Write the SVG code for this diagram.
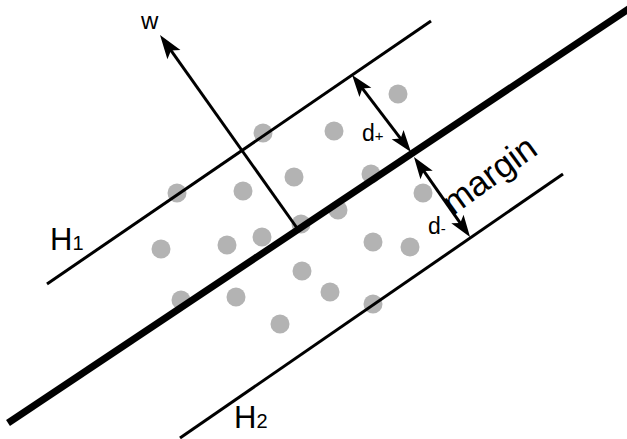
<svg xmlns="http://www.w3.org/2000/svg" width="627" height="439" viewBox="0 0 627 439">
<style>
.ln{stroke:#000;fill:none;stroke-width:3}
.thick{stroke:#000;fill:none;stroke-width:7}
.dot{fill:#b3b3b3}
text{font-family:"Liberation Sans",Arial,sans-serif;fill:#000}
</style>
<defs>
<marker id="ah" markerUnits="userSpaceOnUse" viewBox="-24 -10 32 20" refX="0" refY="0" markerWidth="32" markerHeight="20" orient="auto-start-reverse">
<path d="M6 0 L-16 -7.5 L-11 0 L-16 7.5 Z" fill="#000"/>
</marker>
<marker id="ahw" markerUnits="userSpaceOnUse" viewBox="-24 -10 32 20" refX="0" refY="0" markerWidth="32" markerHeight="20" orient="auto">
<path d="M6 0 L-18 -8 L-13 0 L-18 8 Z" fill="#000"/>
</marker>
</defs>
<g id="points">
<circle class="dot" cx="398" cy="94" r="9.5"/>
<circle class="dot" cx="263" cy="133" r="9.5"/>
<circle class="dot" cx="334" cy="131" r="9.5"/>
<circle class="dot" cx="177" cy="193" r="9.5"/>
<circle class="dot" cx="243" cy="191" r="9.5"/>
<circle class="dot" cx="294" cy="177" r="9.5"/>
<circle class="dot" cx="371" cy="174" r="9.5"/>
<circle class="dot" cx="423" cy="193" r="9.5"/>
<circle class="dot" cx="338" cy="210" r="9.5"/>
<circle class="dot" cx="161" cy="249" r="9.5"/>
<circle class="dot" cx="227" cy="245" r="9.5"/>
<circle class="dot" cx="262" cy="237" r="9.5"/>
<circle class="dot" cx="301" cy="224" r="9.5"/>
<circle class="dot" cx="373" cy="242" r="9.5"/>
<circle class="dot" cx="410" cy="247" r="9.5"/>
<circle class="dot" cx="302" cy="271" r="9.5"/>
<circle class="dot" cx="181" cy="300" r="9.5"/>
<circle class="dot" cx="236" cy="297" r="9.5"/>
<circle class="dot" cx="330" cy="292" r="9.5"/>
<circle class="dot" cx="373" cy="304" r="9.5"/>
<circle class="dot" cx="280" cy="324" r="9.5"/>
</g>
<g id="H1"><line class="ln" x1="47" y1="284" x2="431" y2="21"/></g>
<g id="H2"><line class="ln" x1="180" y1="438" x2="563" y2="174"/></g>
<g id="hyperplane"><line class="thick" x1="8" y1="423" x2="630" y2="8"/></g>
<g id="connectors">
<line class="ln" x1="297" y1="228" x2="163.5" y2="39.9" marker-end="url(#ahw)"/>
<line class="ln" x1="355.7" y1="79.7" x2="407.3" y2="147.3" marker-start="url(#ah)" marker-end="url(#ah)"/>
<line class="ln" x1="417.4" y1="161.9" x2="466.6" y2="232.1" marker-start="url(#ah)" marker-end="url(#ah)"/>
</g>
<g id="labels">
<text x="141" y="29" font-size="24">w</text>
<text x="362" y="141" font-size="23">d<tspan font-size="15">+</tspan></text>
<text x="428" y="234" font-size="23">d<tspan font-size="15">-</tspan></text>
<text x="50" y="250" font-size="31">H<tspan font-size="20">1</tspan></text>
<text x="234" y="428" font-size="31">H<tspan font-size="20">2</tspan></text>
<text x="453" y="216" font-size="35" transform="rotate(-36 453 216)">margin</text>
</g>
</svg>
